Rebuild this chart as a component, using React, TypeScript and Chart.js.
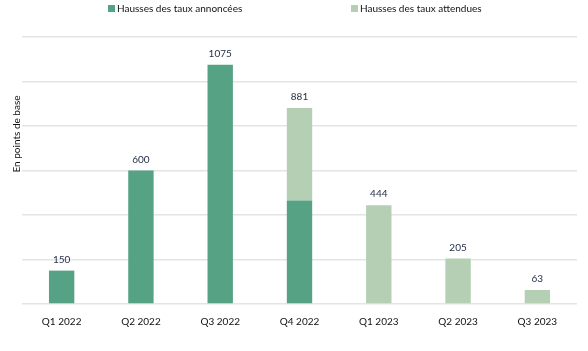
import React, { useEffect, useRef } from "react";
import { Chart, registerables } from "chart.js";

Chart.register(...registerables);

const categories = ["Q1 2022", "Q2 2022", "Q3 2022", "Q4 2022", "Q1 2023", "Q2 2023", "Q3 2023"];
const announced = [150, 600, 1075, 465, null, null, null];
const expected = [null, null, null, 416, 444, 205, 63];
const totalLabels = ["150", "600", "1075", "881", "444", "205", "63"];
const seriesNames = ["Hausses des taux annoncées", "Hausses des taux attendues"];
const yTitle = "En points de base";

const DARK = "#55a285";
const LIGHT = "#b4cfb3";
const FONT = "Lato, 'Liberation Sans', sans-serif";

export default function App() {
  const ref = useRef<HTMLCanvasElement>(null);
  useEffect(() => {
    const ctxEl = ref.current!;
    const extras = {
      id: "extras",
      afterDraw(chart: any) {
        const ctx = chart.ctx;
        ctx.save();
        // data labels
        ctx.font = `10px ${FONT}`;
        ctx.fillStyle = "#1f2a44";
        ctx.textAlign = "center";
        ctx.textBaseline = "bottom";
        const m0 = chart.getDatasetMeta(0);
        const m1 = chart.getDatasetMeta(1);
        categories.forEach((_, i) => {
          const e0 = m0.data[i];
          const e1 = m1.data[i];
          let top = Infinity;
          let x = 0;
          if (announced[i] != null) { top = Math.min(top, e0.y); x = e0.x; }
          if (expected[i] != null) { top = Math.min(top, e1.y); x = e1.x; }
          ctx.fillText(totalLabels[i], x, top - 6);
        });
        // y title
        ctx.save();
        ctx.translate(17, 134);
        ctx.rotate(-Math.PI / 2);
        ctx.textBaseline = "middle";
        ctx.fillStyle = "#111";
        ctx.fillText(yTitle, 0, 0);
        ctx.restore();
        // legend
        ctx.textAlign = "left";
        ctx.textBaseline = "middle";
        ctx.fillStyle = "#111";
        const items = [
          { x: 108, c: DARK, t: seriesNames[0] },
          { x: 351, c: LIGHT, t: seriesNames[1] },
        ];
        items.forEach((it) => {
          ctx.fillStyle = it.c;
          ctx.fillRect(it.x, 5, 7, 7);
          ctx.fillStyle = "#111";
          ctx.fillText(it.t, it.x + 9, 8.5);
        });
        ctx.restore();
      },
    };
    const chart = new Chart(ctxEl, {
      type: "bar",
      data: {
        labels: categories,
        datasets: [
          { label: seriesNames[0], data: announced as any, backgroundColor: DARK, borderWidth: 0 },
          { label: seriesNames[1], data: expected as any, backgroundColor: LIGHT, borderWidth: 0 },
        ],
      },
      options: {
        animation: false,
        responsive: false,
        maintainAspectRatio: false,
        layout: { padding: { left: 22, right: 11, top: 37, bottom: 20 } },
        plugins: { legend: { display: false }, tooltip: { enabled: false } },
        datasets: { bar: { categoryPercentage: 1, barPercentage: 0.32 } },
        scales: {
          x: {
            stacked: true,
            grid: { display: false },
            border: { display: false },
            ticks: { color: "#111", font: { family: FONT, size: 10 }, padding: 3.5 },
          },
          y: {
            stacked: true,
            min: 0,
            max: 1200,
            ticks: { display: false, stepSize: 200 },
            grid: { color: "#e4e4e4", lineWidth: 1.5, drawTicks: false },
            border: { display: false },
          },
        },
      },
      plugins: [extras],
    });
    return () => chart.destroy();
  }, []);
  return (
    <div style={{ position: "fixed", left: 0, top: 0, width: 588, height: 351, background: "#fff" }}>
      <canvas ref={ref} width={588} height={351} style={{ width: 588, height: 351 }} />
    </div>
  );
}
